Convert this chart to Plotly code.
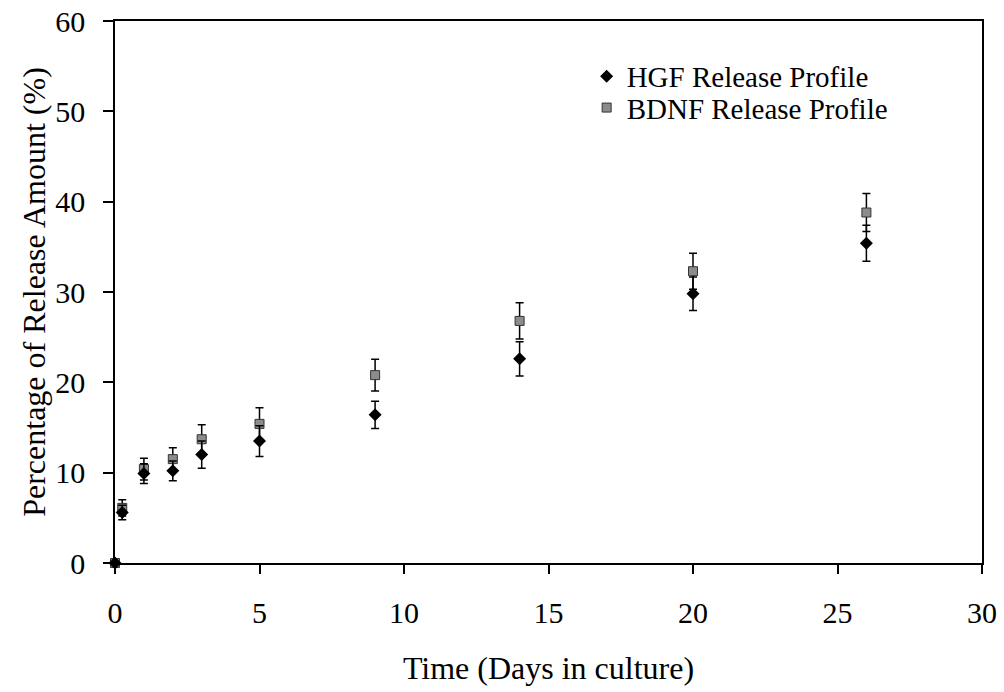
import plotly.graph_objects as go

days = [0, 0.25, 1, 2, 3, 5, 9, 14, 20, 26]
hgf_mean = [0, 5.6, 9.9, 10.2, 12.0, 13.5, 16.4, 22.6, 29.8, 35.4]
hgf_err = [0, 0.8, 1.1, 1.1, 1.5, 1.7, 1.5, 1.9, 1.85, 2.0]
bdnf_mean = [0, 6.1, 10.4, 11.5, 13.7, 15.4, 20.8, 26.8, 32.3, 38.8]
bdnf_err = [0, 0.9, 1.2, 1.25, 1.6, 1.8, 1.75, 2.0, 2.0, 2.1]

x_ticks = [0, 5, 10, 15, 20, 25, 30]
y_ticks = [0, 10, 20, 30, 40, 50, 60]

FONT = "Liberation Serif, Times New Roman, serif"
TICK_FS = 30
TITLE_FS = 32
LEG_FS = 29

fig = go.Figure()
fig.add_trace(go.Scatter(
    x=days, y=bdnf_mean, mode="markers", name="BDNF Release Profile",
    legend="legend2",
    marker=dict(symbol="square", size=9, color="#8c8c8c",
                line=dict(color="#333333", width=1)),
    error_y=dict(type="data", array=bdnf_err, color="black", thickness=1.5, width=4),
    cliponaxis=False,
))
fig.add_trace(go.Scatter(
    x=days, y=hgf_mean, mode="markers", name="HGF Release Profile",
    legend="legend",
    marker=dict(symbol="diamond", size=10, color="black"),
    error_y=dict(type="data", array=hgf_err, color="black", thickness=1.5, width=4),
    cliponaxis=False,
))

leg_common = dict(xanchor="left", yanchor="middle", bgcolor="rgba(0,0,0,0)",
                  font=dict(family=FONT, size=LEG_FS), itemwidth=30)

fig.update_layout(
    width=1004, height=692,
    margin=dict(l=115, r=22, t=21, b=129, autoexpand=False),
    plot_bgcolor="white", paper_bgcolor="white",
    font=dict(family=FONT, size=TICK_FS, color="black"),
    showlegend=True,
    legend=dict(x=0.544, y=0.898, **leg_common),
    legend2=dict(x=0.544, y=0.840, **leg_common),
    xaxis=dict(range=[0, 30], tickvals=x_ticks, ticks="outside", ticklen=9,
               tickwidth=1.5, tickcolor="black", showline=True, linecolor="black",
               linewidth=1.5, mirror=True, showgrid=False, zeroline=False,
               automargin=False, ticklabelstandoff=13, ticklabeloverflow="allow",
               tickfont=dict(family=FONT, size=TICK_FS),
               title=dict(text="Time (Days in culture)", standoff=29,
                          font=dict(family=FONT, size=TITLE_FS))),
    yaxis=dict(range=[0, 60], tickvals=y_ticks, ticks="outside", ticklen=10,
               tickwidth=1.5, tickcolor="black", showline=True, linecolor="black",
               linewidth=1.5, mirror=True, showgrid=False, zeroline=False,
               automargin=False, ticklabelstandoff=12, ticklabeloverflow="allow",
               tickfont=dict(family=FONT, size=TICK_FS),
               title=dict(text="Percentage of Release Amount (%)", standoff=0,
                          font=dict(family=FONT, size=TITLE_FS))),
)

fig.write_html("out.html", config={"displayModeBar": False},
               post_script="document.body.style.margin='0';")
